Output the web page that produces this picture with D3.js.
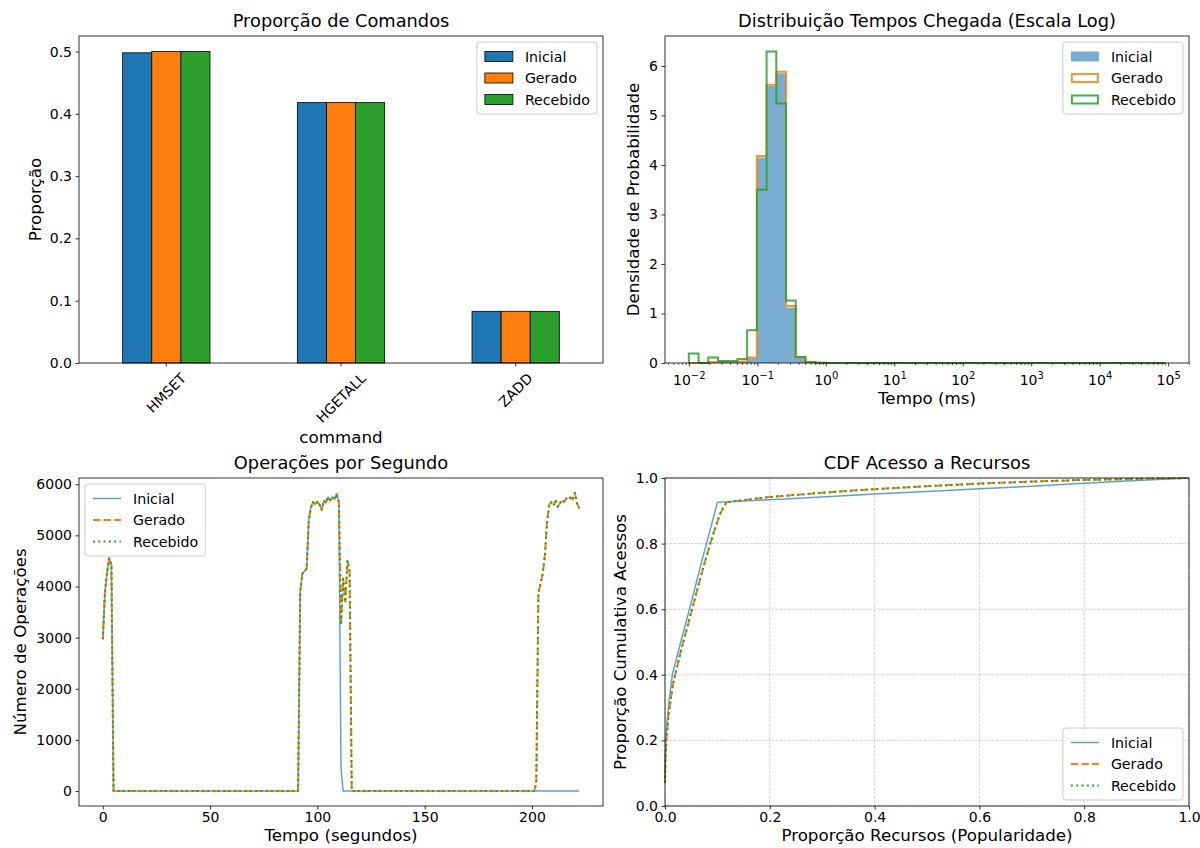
<!DOCTYPE html>
<html lang="pt">
<head>
<meta charset="utf-8">
<title>Comparação de cargas</title>
<script src="https://cdn.jsdelivr.net/npm/d3@7"></script>
<style>
body { margin: 0; background: #fff; }
svg { font-family: "DejaVu Sans", sans-serif; }
</style>
</head>
<body>
<svg id="fig" width="1200" height="848"></svg>
<script>
// ---- dados ----
var series = ["Inicial", "Gerado", "Recebido"];
var cores = ["#1f77b4", "#ff7f0e", "#2ca02c"];

// proporção de comandos
var comandos = ["HMSET", "HGETALL", "ZADD"];
var propInicial = [0.498, 0.418, 0.083];
var propGerado = [0.500, 0.418, 0.083];
var propRecebido = [0.500, 0.418, 0.083];

// histograma de tempos de chegada (49 bins log entre 10^-2 e 10^4.956)
var binLogMin = -2, binLogMax = 4.956, nBins = 49;
var densInicial = [0, 0, 0.01, 0.02, 0.02, 0.03, 0.10, 4.15, 5.60, 5.85, 1.12, 0.10, 0.02, 0.006, 0.002,
  0, 0, 0, 0, 0, 0, 0, 0, 0, 0, 0, 0, 0, 0, 0, 0, 0, 0, 0, 0, 0, 0, 0, 0, 0, 0, 0, 0, 0, 0, 0, 0, 0, 0];
var densGerado = [0, 0, 0.02, 0.03, 0.03, 0.03, 0.11, 4.18, 5.62, 5.88, 1.15, 0.11, 0.02, 0.006, 0.002,
  0, 0, 0, 0, 0, 0, 0, 0, 0, 0, 0, 0, 0, 0, 0, 0, 0, 0, 0, 0, 0, 0, 0, 0, 0, 0, 0, 0, 0, 0, 0, 0, 0, 0];
var densRecebido = [0.19, 0, 0.11, 0.04, 0.04, 0.08, 0.66, 3.50, 6.29, 5.24, 1.26, 0.12, 0.02, 0.006, 0.002,
  0, 0, 0, 0, 0, 0, 0, 0, 0, 0, 0, 0, 0, 0, 0, 0, 0, 0, 0, 0, 0, 0, 0, 0, 0, 0, 0, 0, 0, 0, 0, 0, 0, 0];

// operações por segundo (t = 0..222)
var opsInicial = [
  2970, 3900, 4280, 4550, 4420,
  0, 0, 0, 0, 0, 0, 0, 0, 0, 0,
  0, 0, 0, 0, 0, 0, 0, 0, 0, 0,
  0, 0, 0, 0, 0, 0, 0, 0, 0, 0,
  0, 0, 0, 0, 0, 0, 0, 0, 0, 0,
  0, 0, 0, 0, 0, 0, 0, 0, 0, 0,
  0, 0, 0, 0, 0, 0, 0, 0, 0, 0,
  0, 0, 0, 0, 0, 0, 0, 0, 0, 0,
  0, 0, 0, 0, 0, 0, 0, 0, 0, 0,
  0, 0, 0, 0, 0, 0, 0,
  3900, 4250, 4300, 4350, 5300, 5550, 5650, 5600, 5660, 5600,
  5500, 5680, 5640, 5750, 5680, 5740, 5700, 5810, 5650,
  450,
  0, 0, 0, 0, 0, 0, 0, 0, 0, 0,
  0, 0, 0, 0, 0, 0, 0, 0, 0, 0,
  0, 0, 0, 0, 0, 0, 0, 0, 0, 0,
  0, 0, 0, 0, 0, 0, 0, 0, 0, 0,
  0, 0, 0, 0, 0, 0, 0, 0, 0, 0,
  0, 0, 0, 0, 0, 0, 0, 0, 0, 0,
  0, 0, 0, 0, 0, 0, 0, 0, 0, 0,
  0, 0, 0, 0, 0, 0, 0, 0, 0, 0,
  0, 0, 0, 0, 0, 0, 0, 0, 0, 0,
  0, 0, 0, 0, 0, 0, 0, 0, 0, 0,
  0, 0, 0, 0, 0, 0, 0, 0, 0, 0,
  0
];
var opsGerado = [
  2970, 3900, 4280, 4550, 4420,
  0, 0, 0, 0, 0, 0, 0, 0, 0, 0,
  0, 0, 0, 0, 0, 0, 0, 0, 0, 0,
  0, 0, 0, 0, 0, 0, 0, 0, 0, 0,
  0, 0, 0, 0, 0, 0, 0, 0, 0, 0,
  0, 0, 0, 0, 0, 0, 0, 0, 0, 0,
  0, 0, 0, 0, 0, 0, 0, 0, 0, 0,
  0, 0, 0, 0, 0, 0, 0, 0, 0, 0,
  0, 0, 0, 0, 0, 0, 0, 0, 0, 0,
  0, 0, 0, 0, 0, 0, 0,
  3900, 4250, 4300, 4350, 5300, 5550, 5650, 5600, 5660, 5600,
  5500, 5680, 5640, 5750, 5680, 5740, 5700, 5810, 5650,
  3250, 4150, 3700, 4500, 4300,
  0, 0, 0, 0, 0, 0, 0, 0, 0, 0,
  0, 0, 0, 0, 0, 0, 0, 0, 0, 0,
  0, 0, 0, 0, 0, 0, 0, 0, 0, 0,
  0, 0, 0, 0, 0, 0, 0, 0, 0, 0,
  0, 0, 0, 0, 0, 0, 0, 0, 0, 0,
  0, 0, 0, 0, 0, 0, 0, 0, 0, 0,
  0, 0, 0, 0, 0, 0, 0, 0, 0, 0,
  0, 0, 0, 0, 0, 0, 0, 0, 0, 0,
  0, 0, 0, 0, 0, 0,
  150, 3880, 4050, 4250, 4600, 5250, 5600, 5650, 5580, 5680,
  5560, 5620, 5700, 5650, 5720, 5690, 5740, 5700, 5830, 5620,
  5530
];
var opsRecebido = [
  2970, 3900, 4280, 4550, 4420,
  0, 0, 0, 0, 0, 0, 0, 0, 0, 0,
  0, 0, 0, 0, 0, 0, 0, 0, 0, 0,
  0, 0, 0, 0, 0, 0, 0, 0, 0, 0,
  0, 0, 0, 0, 0, 0, 0, 0, 0, 0,
  0, 0, 0, 0, 0, 0, 0, 0, 0, 0,
  0, 0, 0, 0, 0, 0, 0, 0, 0, 0,
  0, 0, 0, 0, 0, 0, 0, 0, 0, 0,
  0, 0, 0, 0, 0, 0, 0, 0, 0, 0,
  0, 0, 0, 0, 0, 0, 0,
  3900, 4250, 4300, 4350, 5300, 5550, 5650, 5600, 5660, 5600,
  5500, 5680, 5640, 5750, 5680, 5740, 5700, 5810, 5650,
  3250, 4150, 3700, 4500, 4300,
  0, 0, 0, 0, 0, 0, 0, 0, 0, 0,
  0, 0, 0, 0, 0, 0, 0, 0, 0, 0,
  0, 0, 0, 0, 0, 0, 0, 0, 0, 0,
  0, 0, 0, 0, 0, 0, 0, 0, 0, 0,
  0, 0, 0, 0, 0, 0, 0, 0, 0, 0,
  0, 0, 0, 0, 0, 0, 0, 0, 0, 0,
  0, 0, 0, 0, 0, 0, 0, 0, 0, 0,
  0, 0, 0, 0, 0, 0, 0, 0, 0, 0,
  0, 0, 0, 0, 0, 0,
  150, 3880, 4050, 4250, 4600, 5250, 5600, 5650, 5580, 5680,
  5560, 5620, 5700, 5650, 5720, 5690, 5740, 5700, 5830, 5620,
  5530
];

// CDF de acesso a recursos
var cdfXInicial = [0, 0.001, 0.003, 0.007, 0.014, 0.03, 0.05, 0.07, 0.085, 0.1, 0.2, 0.3, 0.4, 0.5, 0.6, 0.7, 0.8, 0.9, 1.0];
var cdfYInicial = [0.08, 0.17, 0.24, 0.31, 0.40, 0.50, 0.62, 0.745, 0.835, 0.926, 0.934, 0.942, 0.951, 0.959, 0.967, 0.975, 0.984, 0.992, 1.0];
var cdfXGerado = [0, 0.001, 0.003, 0.007, 0.015, 0.03, 0.05, 0.07, 0.09, 0.105, 0.117, 0.2, 0.3, 0.4, 0.5, 0.6, 0.7, 0.8, 0.9, 1.0];
var cdfYGerado = [0.07, 0.15, 0.21, 0.28, 0.37, 0.47, 0.59, 0.71, 0.82, 0.89, 0.926, 0.942, 0.955, 0.966, 0.975, 0.983, 0.989, 0.994, 0.997, 1.0];
var cdfXRecebido = [0, 0.001, 0.003, 0.007, 0.015, 0.03, 0.05, 0.07, 0.09, 0.105, 0.117, 0.2, 0.3, 0.4, 0.5, 0.6, 0.7, 0.8, 0.9, 1.0];
var cdfYRecebido = [0.07, 0.15, 0.21, 0.28, 0.37, 0.47, 0.59, 0.71, 0.82, 0.89, 0.926, 0.942, 0.955, 0.966, 0.975, 0.983, 0.989, 0.994, 0.997, 1.0];

// ---- layout ----
var FS_TICK = 14, FS_LAB = 16.7, FS_TIT = 17.8, FS_LEG = 14.2;
var topo1 = 36, base1 = 363, topo2 = 478, base2 = 806;
var esq1 = 79, dir1 = 603, esq2 = 665, dir2 = 1189;

var svg = d3.select("#fig");

function estiloEixo(s) {
  s.select(".domain").remove();
  s.attr("font-family", "DejaVu Sans").attr("font-size", FS_TICK);
  s.selectAll(".tick line").attr("stroke", "#000").attr("stroke-width", 0.8);
  s.selectAll(".tick text").attr("fill", "#000");
}

function moldura(x0, y0, x1, y1) {
  svg.append("rect").attr("x", x0).attr("y", y0).attr("width", x1 - x0).attr("height", y1 - y0)
    .attr("fill", "none").attr("stroke", "#000").attr("stroke-width", 0.8);
}

function titulo(txt, cx, y) {
  svg.append("text").attr("x", cx).attr("y", y).attr("text-anchor", "middle")
    .attr("font-size", FS_TIT).text(txt);
}
function rotuloX(txt, cx, y) {
  svg.append("text").attr("x", cx).attr("y", y).attr("text-anchor", "middle")
    .attr("font-size", FS_LAB).text(txt);
}
function rotuloY(txt, x, cy) {
  svg.append("text").attr("transform", "translate(" + x + "," + cy + ") rotate(-90)")
    .attr("text-anchor", "middle").attr("font-size", FS_LAB).text(txt);
}

// legenda estilo matplotlib; tipo: "barra", "hist", "linha"
var tracos = ["none", "7.4,3.2", "2,3.3"];
function legenda(canto, x, y, tipo) {
  var g = svg.append("g");
  var caixa = g.append("rect");
  var larg = 0;
  series.forEach(function(s, i) {
    var cy = 14.5 + i * 21.5;
    if (tipo === "barra") {
      g.append("rect").attr("x", 8).attr("y", cy - 5).attr("width", 28).attr("height", 10)
        .attr("fill", cores[i]).attr("stroke", "#000").attr("stroke-width", 0.8);
    } else if (tipo === "hist") {
      if (i === 0) {
        g.append("rect").attr("x", 8).attr("y", cy - 5).attr("width", 28).attr("height", 10)
          .attr("fill", cores[i]).attr("fill-opacity", 0.6);
      } else {
        g.append("rect").attr("x", 9).attr("y", cy - 4).attr("width", 26).attr("height", 8)
          .attr("fill", "none").attr("stroke", cores[i]).attr("stroke-width", 2).attr("stroke-opacity", 0.85);
      }
    } else {
      g.append("line").attr("x1", 8).attr("x2", 36).attr("y1", cy).attr("y2", cy)
        .attr("stroke", cores[i]).attr("stroke-width", i === 0 ? 1.5 : 2)
        .attr("stroke-opacity", i === 0 ? 0.7 : 1)
        .attr("stroke-dasharray", tracos[i]);
    }
    var t = g.append("text").attr("x", 48).attr("y", cy + 0.36 * FS_LEG)
      .attr("font-size", FS_LEG).text(s);
    larg = Math.max(larg, t.node().getComputedTextLength());
  });
  var w = 48 + larg + 7, h = 72;
  caixa.attr("width", w).attr("height", h).attr("rx", 3).attr("ry", 3)
    .attr("fill", "#fff").attr("fill-opacity", 0.8).attr("stroke", "#cccccc").attr("stroke-width", 1);
  var gx = canto.indexOf("e") >= 0 ? x - w : x;
  var gy = canto.indexOf("s") >= 0 ? y - h : y;
  g.attr("transform", "translate(" + gx + "," + gy + ")");
}

// ---- painel 1: proporção de comandos ----
(function() {
  var props = [propInicial, propGerado, propRecebido];
  var x = d3.scaleBand().domain(comandos).range([esq1, dir1]).paddingInner(0.5).paddingOuter(0.25);
  var xs = d3.scaleBand().domain(series).range([0, x.bandwidth()]);
  var y = d3.scaleLinear().domain([0, d3.max(props.flat()) * 1.05]).range([base1, topo1]);

  series.forEach(function(s, j) {
    svg.append("g").selectAll("rect").data(comandos).join("rect")
      .attr("x", function(c) { return x(c) + xs(s); })
      .attr("y", function(c, i) { return y(props[j][i]); })
      .attr("width", xs.bandwidth())
      .attr("height", function(c, i) { return base1 - y(props[j][i]); })
      .attr("fill", cores[j]).attr("stroke", "#000").attr("stroke-width", 0.8);
  });

  var gx = svg.append("g").attr("transform", "translate(0," + base1 + ")")
    .call(d3.axisBottom(x).tickSize(3.5).tickPadding(3.5)).call(estiloEixo);
  gx.selectAll(".tick text").each(function() {
    var t = d3.select(this);
    var w = this.getComputedTextLength(), hgt = FS_TICK * 1.16;
    var H = (w + hgt) * Math.SQRT1_2;
    t.attr("y", 0).attr("dy", "0.35em").attr("text-anchor", "middle")
      .attr("transform", "translate(0," + (7 + H / 2) + ") rotate(-45)");
  });
  svg.append("g").attr("transform", "translate(" + esq1 + ",0)")
    .call(d3.axisLeft(y).tickValues([0, 0.1, 0.2, 0.3, 0.4, 0.5]).tickFormat(d3.format(".1f"))
      .tickSize(3.5).tickPadding(3.5)).call(estiloEixo);

  moldura(esq1, topo1, dir1, base1);
  titulo("Proporção de Comandos", (esq1 + dir1) / 2, topo1 - 9.5);
  rotuloX("command", (esq1 + dir1) / 2, 443);
  rotuloY("Proporção", 41, (topo1 + base1) / 2);
  legenda("ne", dir1 - 6, topo1 + 6, "barra");
})();

// ---- painel 2: histograma log ----
(function() {
  var dens = [densInicial, densGerado, densRecebido];
  var bordas = d3.range(nBins + 1).map(function(i) {
    return Math.pow(10, binLogMin + i * (binLogMax - binLogMin) / nBins);
  });
  var marg = 0.05 * (binLogMax - binLogMin);
  var x = d3.scaleLog().domain([Math.pow(10, binLogMin - marg), Math.pow(10, binLogMax + marg)]).range([esq2, dir2]);
  var y = d3.scaleLinear().domain([0, d3.max(dens.flat()) * 1.05]).range([base1, topo1]);

  function degraus(vals) {
    var pts = [[bordas[0], 0]];
    vals.forEach(function(v, i) { pts.push([bordas[i], v]); pts.push([bordas[i + 1], v]); });
    pts.push([bordas[nBins], 0]);
    return pts;
  }
  var linha = d3.line().x(function(d) { return x(d[0]); }).y(function(d) { return y(d[1]); });

  svg.append("path").attr("d", linha(degraus(densInicial)) + "Z")
    .attr("fill", cores[0]).attr("fill-opacity", 0.6);
  [densGerado, densRecebido].forEach(function(v, k) {
    svg.append("path").attr("d", linha(degraus(v)))
      .attr("fill", "none").attr("stroke", cores[k + 1]).attr("stroke-width", 2)
      .attr("stroke-opacity", 0.85).attr("stroke-linejoin", "miter");
  });

  var maiores = d3.range(-2, 6).map(function(k) { return Math.pow(10, k); });
  var menores = [];
  d3.range(-3, 6).forEach(function(k) {
    d3.range(2, 10).forEach(function(m) {
      var v = m * Math.pow(10, k);
      if (v >= x.domain()[0] && v <= x.domain()[1]) menores.push(v);
    });
  });
  svg.append("g").attr("transform", "translate(0," + base1 + ")")
    .call(d3.axisBottom(x).tickValues(menores).tickFormat("").tickSize(2)).call(estiloEixo)
    .selectAll(".tick line").attr("stroke-width", 0.6);
  var gx = svg.append("g").attr("transform", "translate(0," + base1 + ")")
    .call(d3.axisBottom(x).tickValues(maiores).tickFormat("").tickSize(3.5)).call(estiloEixo);
  gx.selectAll(".tick").each(function(d) {
    var k = Math.round(Math.log10(d));
    var t = d3.select(this).append("text").attr("y", 21.5).attr("text-anchor", "middle")
      .attr("fill", "#000").text("10");
    t.append("tspan").attr("font-size", 10).attr("dy", -6).text(String(k).replace("-", "\u2212"));
  });
  svg.append("g").attr("transform", "translate(" + esq2 + ",0)")
    .call(d3.axisLeft(y).tickValues(d3.range(0, 7)).tickFormat(d3.format("d"))
      .tickSize(3.5).tickPadding(3.5)).call(estiloEixo);

  moldura(esq2, topo1, dir2, base1);
  titulo("Distribuição Tempos Chegada (Escala Log)", (esq2 + dir2) / 2, topo1 - 9.5);
  rotuloX("Tempo (ms)", (esq2 + dir2) / 2, 404);
  rotuloY("Densidade de Probabilidade", 639, (topo1 + base1) / 2);
  legenda("ne", dir2 - 6, topo1 + 6, "hist");
})();

// ---- painel 3: operações por segundo ----
(function() {
  var ops = [opsInicial, opsGerado, opsRecebido];
  var tMax = d3.max(ops, function(a) { return a.length - 1; });
  var yMax = d3.max(ops.flat()), yMin = 0;
  var x = d3.scaleLinear().domain([-0.05 * tMax, 1.05 * tMax]).range([esq1, dir1]);
  var y = d3.scaleLinear().domain([yMin - 0.05 * (yMax - yMin), yMax + 0.05 * (yMax - yMin)]).range([base2, topo2]);
  var linha = d3.line().x(function(d, i) { return x(i); }).y(function(d) { return y(d); });

  ops.forEach(function(a, j) {
    svg.append("path").attr("d", linha(a)).attr("fill", "none")
      .attr("stroke", cores[j]).attr("stroke-width", j === 0 ? 1.5 : 2)
      .attr("stroke-opacity", j === 0 ? 0.7 : 1)
      .attr("stroke-dasharray", tracos[j]).attr("stroke-linejoin", "round");
  });

  svg.append("g").attr("transform", "translate(0," + base2 + ")")
    .call(d3.axisBottom(x).tickValues([0, 50, 100, 150, 200]).tickSize(3.5).tickPadding(3)).call(estiloEixo);
  svg.append("g").attr("transform", "translate(" + esq1 + ",0)")
    .call(d3.axisLeft(y).tickValues(d3.range(0, 7000, 1000)).tickFormat(d3.format("d"))
      .tickSize(3.5).tickPadding(3.5)).call(estiloEixo);

  moldura(esq1, topo2, dir1, base2);
  titulo("Operações por Segundo", (esq1 + dir1) / 2, topo2 - 9.5);
  rotuloX("Tempo (segundos)", (esq1 + dir1) / 2, 841);
  rotuloY("Número de Operações", 26, (topo2 + base2) / 2);
  legenda("nw", esq1 + 6, topo2 + 6, "linha");
})();

// ---- painel 4: CDF ----
(function() {
  var xs = [cdfXInicial, cdfXGerado, cdfXRecebido];
  var ys = [cdfYInicial, cdfYGerado, cdfYRecebido];
  var x = d3.scaleLinear().domain([0, 1]).range([esq2, dir2]);
  var y = d3.scaleLinear().domain([0, 1]).range([base2, topo2]);
  var marcas = [0, 0.2, 0.4, 0.6, 0.8, 1.0];

  var grade = svg.append("g").attr("stroke", "#b0b0b0").attr("stroke-width", 0.8)
    .attr("stroke-opacity", 0.7).attr("stroke-dasharray", "2.96,1.28");
  grade.selectAll(".gx").data(marcas).join("line").attr("class", "gx")
    .attr("x1", x).attr("x2", x).attr("y1", topo2).attr("y2", base2);
  grade.selectAll(".gy").data(marcas).join("line").attr("class", "gy")
    .attr("y1", y).attr("y2", y).attr("x1", esq2).attr("x2", dir2);

  var linha = d3.line().x(function(d) { return x(d[0]); }).y(function(d) { return y(d[1]); });
  series.forEach(function(s, j) {
    var pts = xs[j].map(function(v, i) { return [v, ys[j][i]]; });
    svg.append("path").attr("d", linha(pts)).attr("fill", "none")
      .attr("stroke", cores[j]).attr("stroke-width", j === 0 ? 1.5 : 2)
      .attr("stroke-opacity", j === 0 ? 0.7 : 1)
      .attr("stroke-dasharray", tracos[j]).attr("stroke-linejoin", "round");
  });

  svg.append("g").attr("transform", "translate(0," + base2 + ")")
    .call(d3.axisBottom(x).tickValues(marcas).tickFormat(d3.format(".1f")).tickSize(3.5).tickPadding(3)).call(estiloEixo);
  svg.append("g").attr("transform", "translate(" + esq2 + ",0)")
    .call(d3.axisLeft(y).tickValues(marcas).tickFormat(d3.format(".1f")).tickSize(3.5).tickPadding(3.5)).call(estiloEixo);

  moldura(esq2, topo2, dir2, base2);
  titulo("CDF Acesso a Recursos", (esq2 + dir2) / 2, topo2 - 9.5);
  rotuloX("Proporção Recursos (Popularidade)", (esq2 + dir2) / 2, 841);
  rotuloY("Proporção Cumulativa Acessos", 626, (topo2 + base2) / 2);
  legenda("se", dir2 - 6, base2 - 6, "linha");
})();
</script>
</body>
</html>
